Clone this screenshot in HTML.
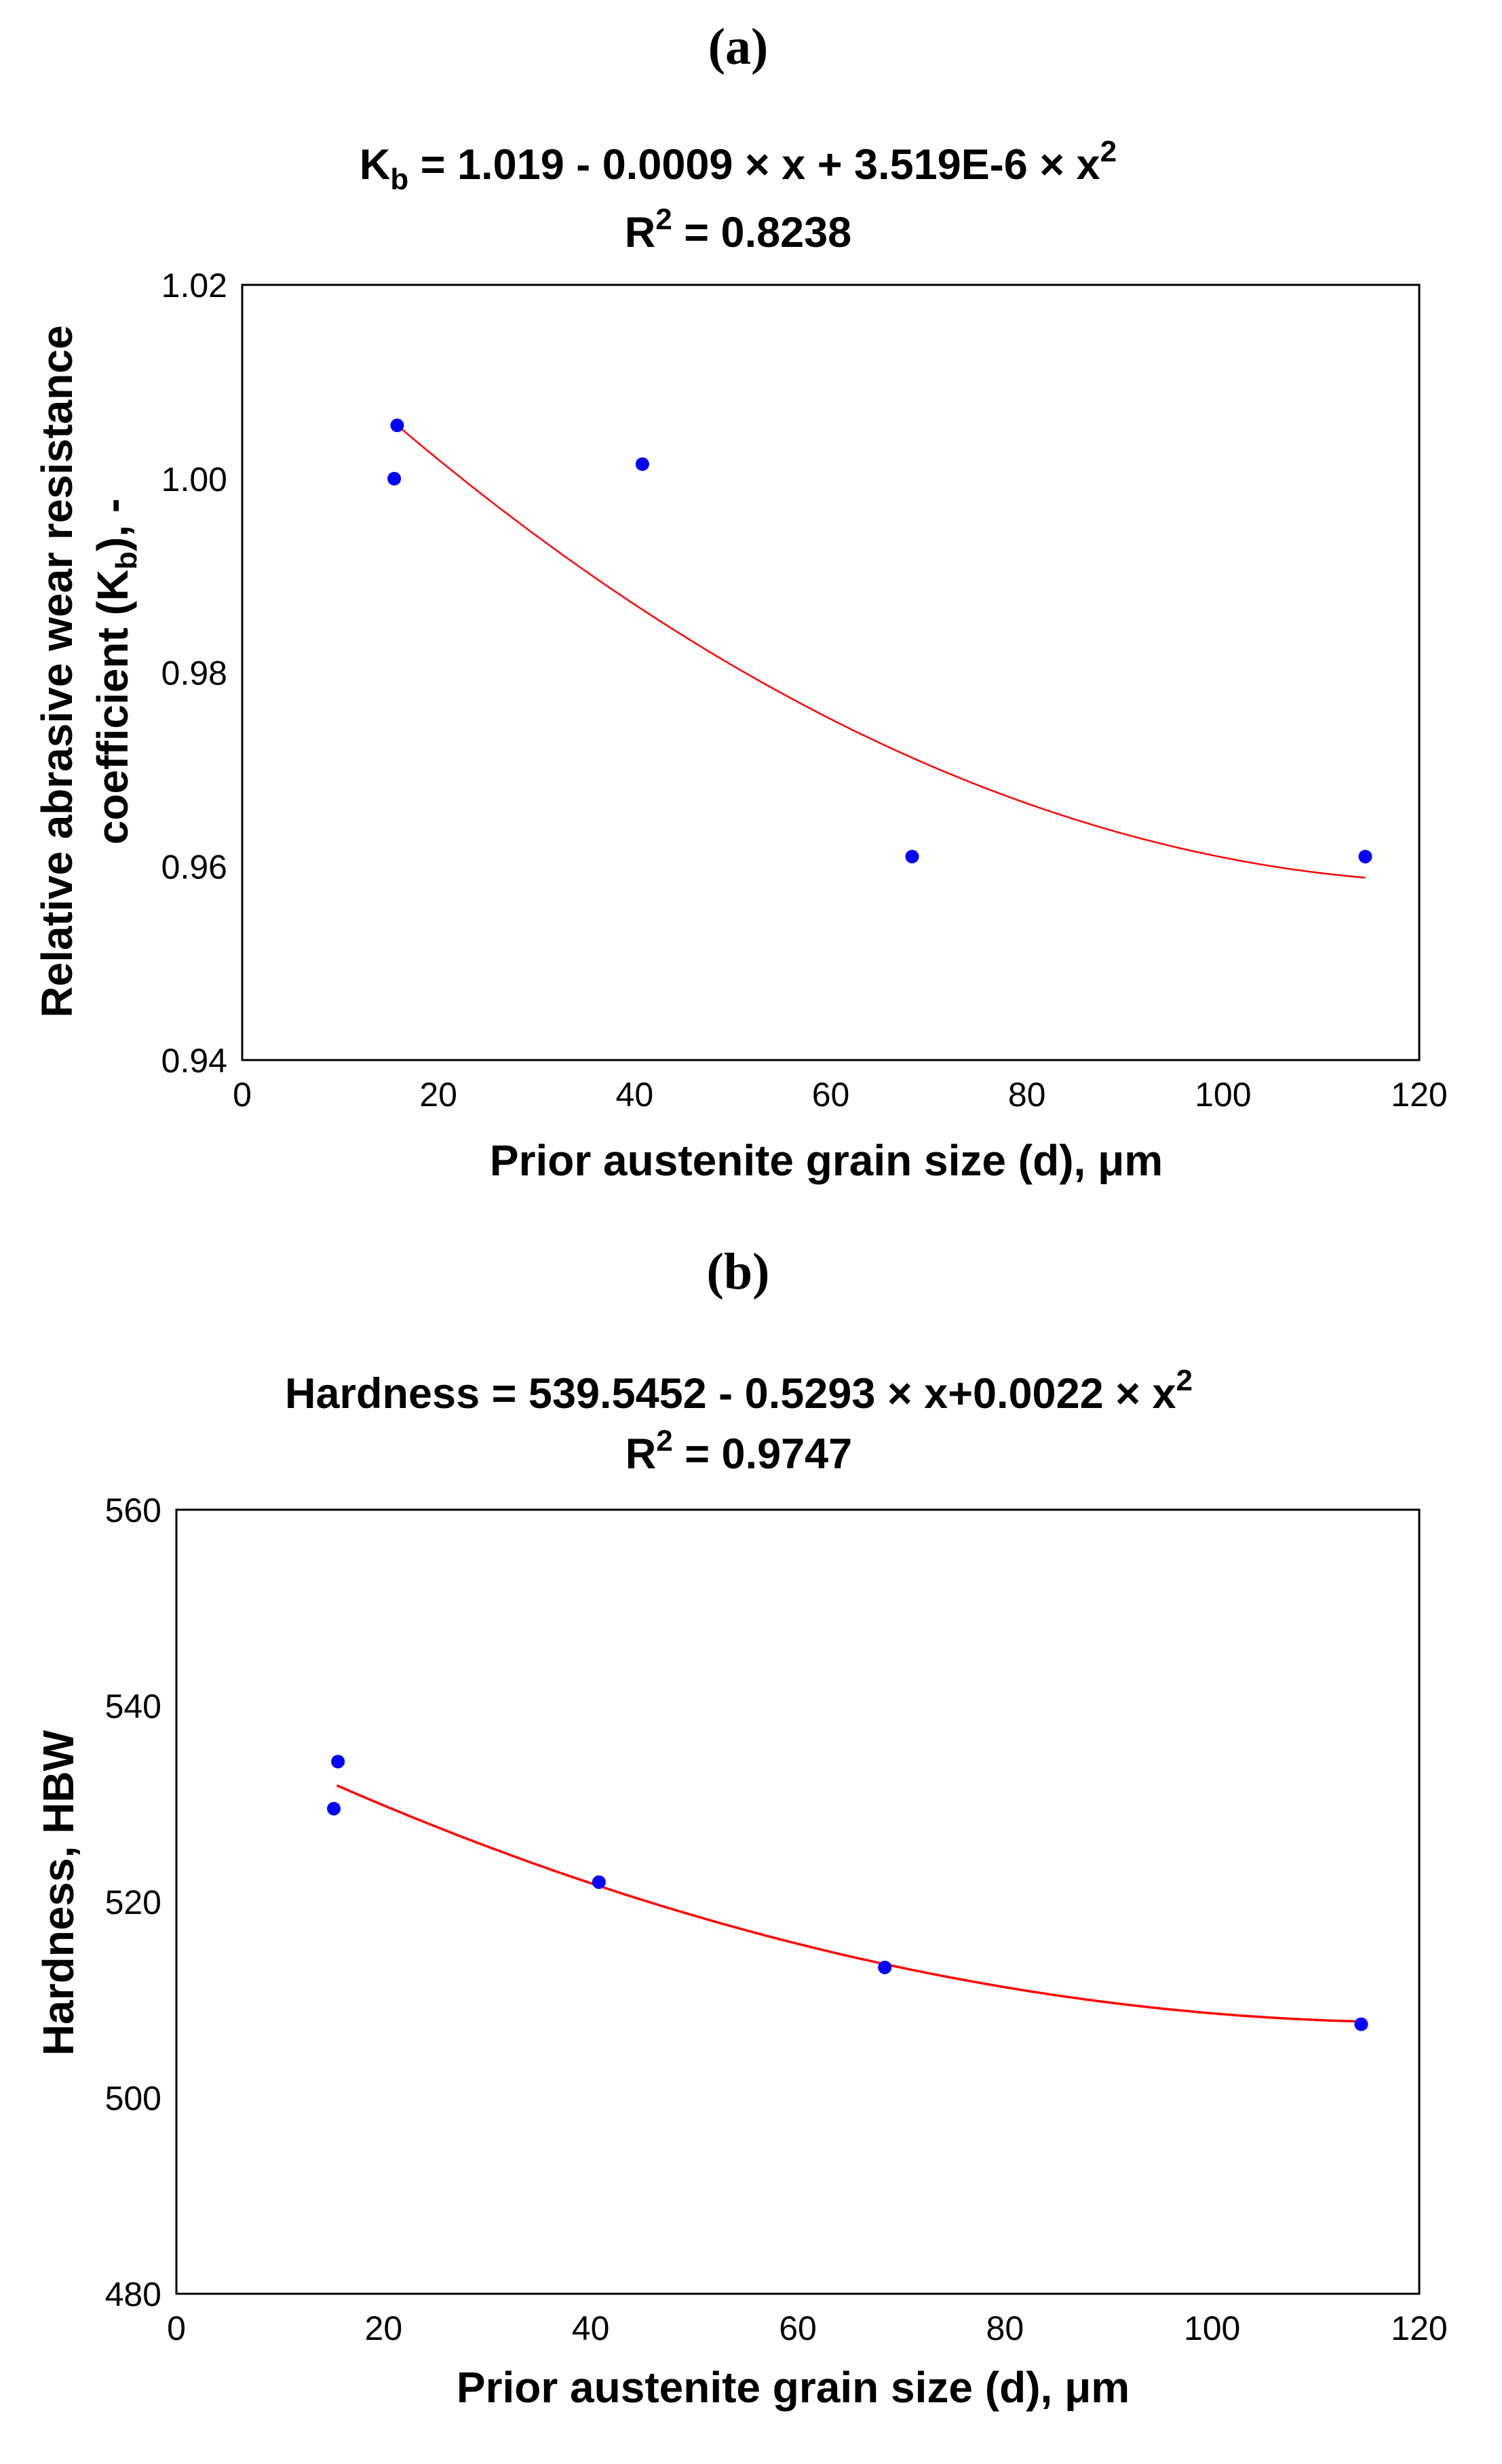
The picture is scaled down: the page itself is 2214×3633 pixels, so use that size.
<!DOCTYPE html>
<html><head><meta charset="utf-8"><style>
html,body{margin:0;padding:0;background:#fff}
svg{display:block}
text{font-family:"Liberation Sans",Arial,sans-serif}
text.serif{font-family:"Liberation Serif","DejaVu Serif",serif}
</style></head><body>
<svg id="s" width="2214" height="3633" viewBox="0 0 2214 3633" xmlns="http://www.w3.org/2000/svg">
<text class="serif" x="1088" y="94" text-anchor="middle" font-weight="bold" font-size="76">(a)</text>
<text x="1088" y="264" text-anchor="middle" font-size="63" font-weight="bold">K<tspan font-size="44" dy="15">b</tspan><tspan dy="-15"> = 1.019 - 0.0009 × x + 3.519E-6 × x</tspan><tspan font-size="44" dy="-26">2</tspan></text>
<text x="1088" y="364" text-anchor="middle" font-size="63" font-weight="bold">R<tspan font-size="44" dy="-26">2</tspan><tspan dy="26"> = 0.8238</tspan></text>
<text transform="translate(106,990) rotate(-90)" text-anchor="middle" font-size="64" font-weight="bold">Relative abrasive wear resistance</text>
<text transform="translate(188,990) rotate(-90)" text-anchor="middle" font-size="64" font-weight="bold">coefficient (K<tspan font-size="44" dy="13">b</tspan><tspan dy="-13">), -</tspan></text>
<text x="1218" y="1733" text-anchor="middle" font-size="64" font-weight="bold">Prior austenite grain size (d), μm</text>
<text class="serif" x="1088" y="1900" text-anchor="middle" font-weight="bold" font-size="76">(b)</text>
<text x="1089" y="2076" text-anchor="middle" font-size="63" font-weight="bold">Hardness = 539.5452 - 0.5293 × x+0.0022 × x<tspan font-size="44" dy="-26">2</tspan></text>
<text x="1089" y="2165" text-anchor="middle" font-size="63" font-weight="bold">R<tspan font-size="44" dy="-26">2</tspan><tspan dy="26"> = 0.9747</tspan></text>
<text transform="translate(108,2791) rotate(-90)" text-anchor="middle" font-size="64" font-weight="bold">Hardness, HBW</text>
<text x="1169" y="3542" text-anchor="middle" font-size="64" font-weight="bold">Prior austenite grain size (d), μm</text>
</svg>
<script>
const aX=[15.5,15.8,40.8,68.3,114.5];
const aY=[1.0,1.0055,1.0015,0.961,0.961];
const aCoef=[1.02005,-0.000982,3.906e-6];
const aXTicks=[0,20,40,60,80,100,120];
const aYTicks=["0.94","0.96","0.98","1.00","1.02"];
const bX=[15.2,15.6,40.8,68.4,114.4];
const bY=[529.5,534.3,522,513.3,507.5];
const bCoef=[539.5452,-0.5293,0.0022];
const bXTicks=[0,20,40,60,80,100,120];
const bYTicks=["480","500","520","540","560"];
const NS="http://www.w3.org/2000/svg";
const svg=document.getElementById('s');
function mk(t,a){const e=document.createElementNS(NS,t);for(const k in a)e.setAttribute(k,a[k]);svg.appendChild(e);return e;}
function chart(p,X,Y,coef,xt,yt,ymin,ymax,L,R,T,B,lw,fx0,fx1){
  const sx=v=>L+(v-0)/(120-0)*(R-L);
  const sy=v=>B-(v-ymin)/(ymax-ymin)*(B-T);
  const fr=mk('rect',{x:L,y:T,width:R-L,height:B-T,fill:'none',stroke:'#000','stroke-width':3});
  
  
  xt.forEach(v=>{const t=mk('text',{x:sx(v),y:B+68,'text-anchor':'middle','font-size':50});t.textContent=v;
    
    });
  yt.forEach(v=>{const t=mk('text',{x:L-22,y:sy(parseFloat(v))+18,'text-anchor':'end','font-size':50});t.textContent=v;
    
    });
  let d='';for(let i=0;i<=100;i++){const x=fx0+(fx1-fx0)*i/100;const y=coef[0]+coef[1]*x+coef[2]*x*x;d+=(i?'L':'M')+sx(x).toFixed(1)+','+sy(y).toFixed(1);}
  const pth=mk('path',{d:d,fill:'none',stroke:'#f00','stroke-width':lw});
  
  
  X.forEach((x,i)=>{const c=mk('circle',{cx:sx(x),cy:sy(Y[i]),r:10,fill:'#0000ff'});
    
    });
}
chart('chart-a',aX,aY,aCoef,aXTicks,aYTicks,0.94,1.02,357,2092,420,1563,2.5,15.8,114.5);
chart('chart-b',bX,bY,bCoef,bXTicks,bYTicks,480,560,260,2092,2226,3382,3.5,15.5,114.5);
</script>
</body></html>
